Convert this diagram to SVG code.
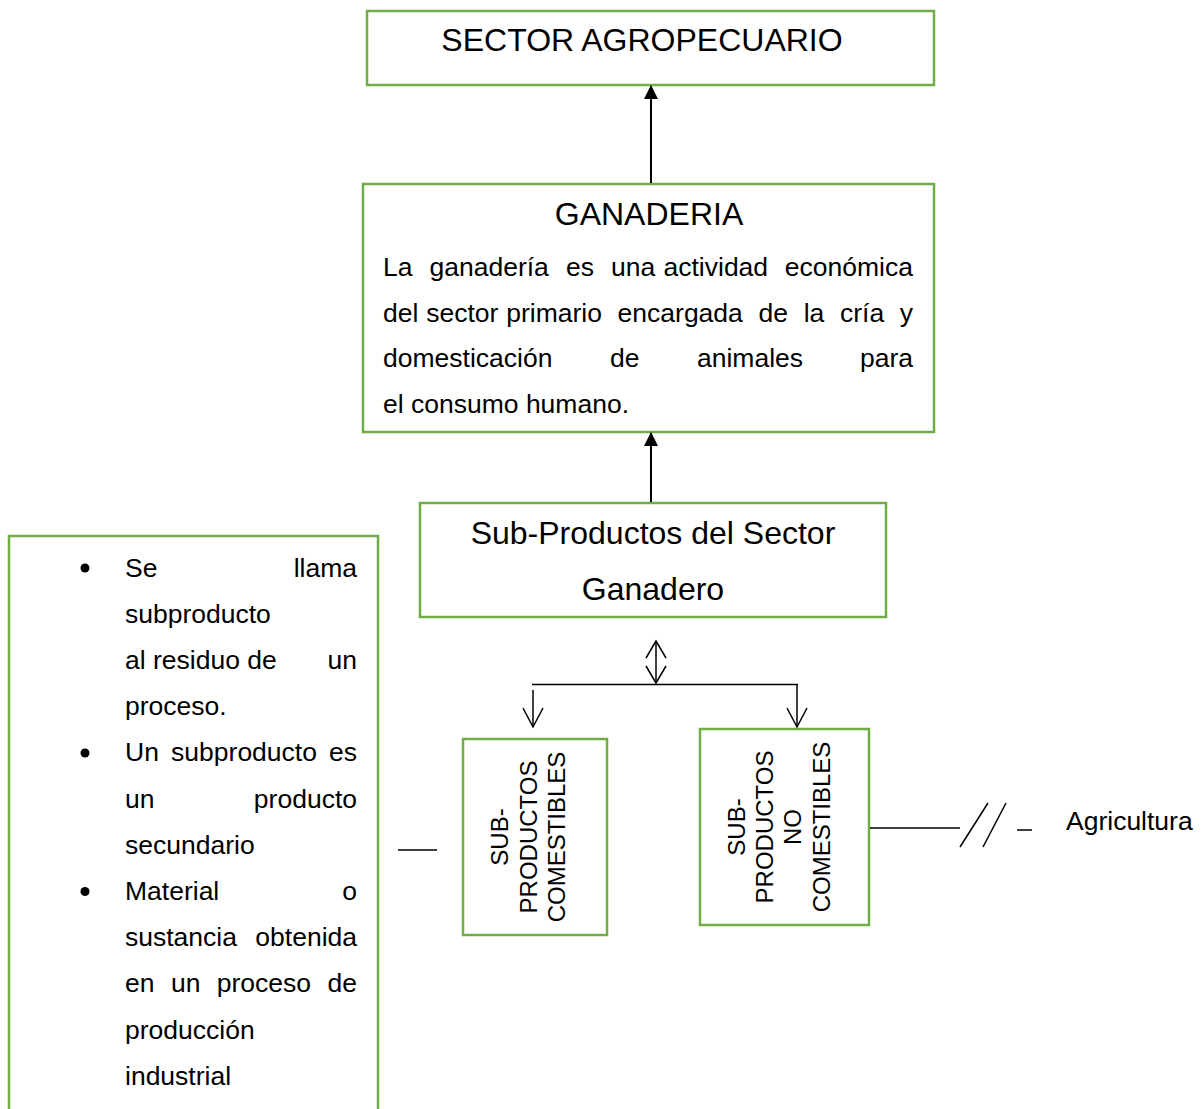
<svg xmlns="http://www.w3.org/2000/svg" width="1201" height="1109" viewBox="0 0 1201 1109">
<style>
.box{fill:#fff;stroke:#70AD47;stroke-width:2.5}
.t{font-family:"Liberation Sans",Arial,sans-serif;fill:#000}
.big{font-size:32px}
.body{font-size:26.5px}
.rot{font-size:24px}
.ln{stroke:#000;stroke-width:2;fill:none}
.thin{stroke:#000;stroke-width:1.5;fill:none}
</style>
<defs>
<marker id="fh" viewBox="0 0 14 16" refX="13" refY="8" markerWidth="14" markerHeight="16" markerUnits="userSpaceOnUse" orient="auto">
<path d="M0,1 L14,8 L0,15 Z" fill="#000"/>
</marker>
</defs>
<rect width="1201" height="1109" fill="#fff"/>

<g id="sector">
<rect class="box" x="367" y="11" width="567" height="74"/>
<text class="t big" x="642" y="51" text-anchor="middle">SECTOR AGROPECUARIO</text>
</g>

<g id="ganaderia">
<rect class="box" x="363" y="184" width="571" height="248"/>
<text class="t big" x="649" y="225" text-anchor="middle">GANADERIA</text>
<text class="t body" y="276"><tspan x="383">La</tspan><tspan x="429.5">ganadería</tspan><tspan x="566">es</tspan><tspan x="611">una</tspan><tspan x="663.5">actividad</tspan></text>
<text class="t body" x="913" y="276" text-anchor="end">económica</text>
<text class="t body" y="321.7"><tspan x="383">del</tspan><tspan x="426.2">sector</tspan><tspan x="506.2">primario</tspan><tspan x="617.6">encargada</tspan><tspan x="758.5">de</tspan><tspan x="803.7">la</tspan><tspan x="840">cría</tspan></text>
<text class="t body" x="913" y="321.7" text-anchor="end">y</text>
<text class="t body" y="367.3"><tspan x="383">domesticación</tspan><tspan x="610">de</tspan><tspan x="697">animales</tspan></text>
<text class="t body" x="913" y="367.3" text-anchor="end">para</text>
<text class="t body" x="383" y="413">el consumo humano.</text>
</g>

<g id="subproductos">
<rect class="box" x="420" y="503" width="466" height="114"/>
<text class="t big" x="653" y="543.5" text-anchor="middle">Sub-Productos del Sector</text>
<text class="t big" x="653" y="599.5" text-anchor="middle">Ganadero</text>
</g>

<g id="comestibles">
<rect class="box" x="463" y="739" width="144" height="196"/>
<text class="t rot" text-anchor="middle" transform="translate(508,837) rotate(-90)">SUB-</text>
<text class="t rot" text-anchor="middle" transform="translate(537,837) rotate(-90)">PRODUCTOS</text>
<text class="t rot" text-anchor="middle" transform="translate(565,837) rotate(-90)">COMESTIBLES</text>
</g>

<g id="no-comestibles">
<rect class="box" x="700" y="729" width="169" height="196"/>
<text class="t rot" text-anchor="middle" transform="translate(745,827) rotate(-90)">SUB-</text>
<text class="t rot" text-anchor="middle" transform="translate(773,827) rotate(-90)">PRODUCTOS</text>
<text class="t rot" text-anchor="middle" transform="translate(801,827) rotate(-90)">NO</text>
<text class="t rot" text-anchor="middle" transform="translate(830,827) rotate(-90)">COMESTIBLES</text>
</g>

<g id="agricultura">
<text class="t body" x="1066" y="830">Agricultura</text>
</g>

<g id="definicion">
<rect class="box" x="9" y="536" width="369" height="600"/>
<circle cx="85" cy="568" r="4.5" fill="#000"/>
<circle cx="85" cy="753" r="4.5" fill="#000"/>
<circle cx="85" cy="891.5" r="4.5" fill="#000"/>
<text class="t body" x="125" y="576.5">Se</text>
<text class="t body" x="357" y="576.5" text-anchor="end">llama</text>
<text class="t body" x="125" y="622.7">subproducto</text>
<text class="t body" x="125" y="668.9">al residuo de</text>
<text class="t body" x="357" y="668.9" text-anchor="end">un</text>
<text class="t body" x="125" y="715.1">proceso.</text>
<text class="t body" y="761.3"><tspan x="125">Un</tspan><tspan x="171.1">subproducto</tspan></text>
<text class="t body" x="357" y="761.3" text-anchor="end">es</text>
<text class="t body" x="125" y="807.5">un</text>
<text class="t body" x="357" y="807.5" text-anchor="end">producto</text>
<text class="t body" x="125" y="853.7">secundario</text>
<text class="t body" x="125" y="899.9">Material</text>
<text class="t body" x="357" y="899.9" text-anchor="end">o</text>
<text class="t body" x="125" y="946.1">sustancia</text>
<text class="t body" x="357" y="946.1" text-anchor="end">obtenida</text>
<text class="t body" y="992.3"><tspan x="125">en</tspan><tspan x="170.9">un</tspan><tspan x="216.8">proceso</tspan></text>
<text class="t body" x="357" y="992.3" text-anchor="end">de</text>
<text class="t body" x="125" y="1038.5">producción</text>
<text class="t body" x="125" y="1084.7">industrial</text>
</g>

<g id="connectors">
<line class="ln" x1="651" y1="183" x2="651" y2="86" marker-end="url(#fh)"/>
<line class="ln" x1="651" y1="502" x2="651" y2="433" marker-end="url(#fh)"/>
<line class="thin" x1="656" y1="641" x2="656" y2="683"/>
<polyline class="thin" points="646,658 656,641 666,658"/>
<polyline class="thin" points="646,666 656,683 666,666"/>
<line class="thin" x1="532" y1="684.5" x2="798" y2="684.5"/>
<line class="thin" x1="533" y1="690" x2="533" y2="727"/>
<polyline class="thin" points="523,708 533,727 543,708"/>
<line class="thin" x1="797" y1="684.5" x2="797" y2="727"/>
<polyline class="thin" points="787,708 797,727 807,708"/>
<line class="thin" x1="870" y1="828" x2="960" y2="828"/>
<line class="thin" x1="960" y1="847" x2="988" y2="803"/>
<line class="thin" x1="983" y1="847" x2="1006" y2="803"/>
<line class="thin" x1="1017" y1="830" x2="1032" y2="830"/>
<line class="thin" x1="398" y1="850" x2="437" y2="850"/>
</g>
</svg>
